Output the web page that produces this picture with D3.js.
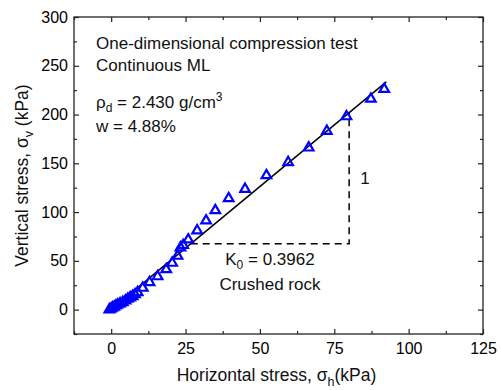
<!DOCTYPE html>
<html lang="en">
<head>
  <meta charset="UTF-8">
  <title>K0 test</title>
  <script src="https://d3js.org/d3.v7.min.js"></script>
  <style>
    body { margin: 0; background: #fff; font-family: "Liberation Sans", Arial, sans-serif; }
    .axis text { font-size: 16px; font-family: "Liberation Sans", Arial, sans-serif; fill: #000; }
    .axis line { stroke: #222; stroke-width: 1.2; }
    .axis path { display: none; }
    .note { font-size: 17px; fill: #111; }
  </style>
</head>
<body>
  <svg width="501" height="390"></svg>
  <script>
    // horizontal / vertical stress readings (kPa)
    const sigmaH = [-0.6, 0.0, 0.5, 1.0, 1.6, 2.2, 3.0, 3.9, 4.8, 5.6, 6.4, 7.2, 8.0, 8.9, 10.6, 12.9, 15.6, 18.5, 20.5, 22.3, 23.3, 24.2, 25.9, 28.9, 31.9, 35.0, 39.5, 45.0, 52.2, 59.5, 66.4, 72.5, 79.1, 87.3, 91.8];
    const sigmaV = [0.0, 1.0, 2.0, 2.8, 4.0, 5.1, 6.2, 7.5, 9.2, 11.0, 12.3, 13.6, 15.5, 17.7, 22.2, 28.0, 34.0, 41.2, 47.8, 55.0, 63.5, 66.0, 71.7, 81.0, 91.2, 101.7, 114.0, 123.6, 137.6, 151.0, 166.0, 183.0, 198.0, 216.0, 226.0];
    const K0 = 0.3962;
    const fitRange = [0, 92.5];
    const slopeCorner = [80, 67.5];
    const xTicks = [0, 25, 50, 75, 100, 125];
    const yTicks = [0, 50, 100, 150, 200, 250, 300];

    const data = sigmaH.map((h, i) => ({h: h, v: sigmaV[i]}));

    const svg = d3.select("svg"),
          margin = {top: 17, right: 18, bottom: 56, left: 74},
          width = +svg.attr("width") - margin.left - margin.right,
          height = +svg.attr("height") - margin.top - margin.bottom;

    const g = svg.append("g").attr("transform", `translate(${margin.left},${margin.top})`);

    const x = d3.scaleLinear().domain([-12.5, 125]).range([0, width]);
    const y = d3.scaleLinear().domain([-25, 300]).range([height, 0]);

    const xMinor = d3.range(-12.5, 126, 25);
    const yMinor = d3.range(-25, 301, 50);

    // bottom
    g.append("g").attr("class", "axis")
      .attr("transform", `translate(0,${height})`)
      .call(d3.axisBottom(x).tickValues(xTicks).tickSize(-5).tickPadding(9));
    g.append("g").attr("class", "axis")
      .attr("transform", `translate(0,${height})`)
      .call(d3.axisBottom(x).tickValues(xMinor).tickSize(-3).tickFormat(""));
    // top
    g.append("g").attr("class", "axis")
      .call(d3.axisTop(x).tickValues(xTicks).tickSize(-5).tickFormat(""));
    g.append("g").attr("class", "axis")
      .call(d3.axisTop(x).tickValues(xMinor).tickSize(-3).tickFormat(""));
    // left
    g.append("g").attr("class", "axis")
      .call(d3.axisLeft(y).tickValues(yTicks).tickSize(-5).tickPadding(6));
    g.append("g").attr("class", "axis")
      .call(d3.axisLeft(y).tickValues(yMinor).tickSize(-3).tickFormat(""));
    // right
    g.append("g").attr("class", "axis")
      .attr("transform", `translate(${width},0)`)
      .call(d3.axisRight(y).tickValues(yTicks).tickSize(-5).tickFormat(""));
    g.append("g").attr("class", "axis")
      .attr("transform", `translate(${width},0)`)
      .call(d3.axisRight(y).tickValues(yMinor).tickSize(-3).tickFormat(""));

    g.append("rect")
      .attr("width", width).attr("height", height)
      .attr("fill", "none").attr("stroke", "#222").attr("stroke-width", 1.3);

    // fitted K0 line
    g.append("line")
      .attr("x1", x(fitRange[0])).attr("y1", y(fitRange[0] / K0))
      .attr("x2", x(fitRange[1])).attr("y2", y(fitRange[1] / K0))
      .attr("stroke", "#000").attr("stroke-width", 1.5);

    // slope triangle
    const c = slopeCorner;
    g.append("path")
      .attr("d", d3.line()([[x(c[1] * K0), y(c[1])], [x(c[0]), y(c[1])], [x(c[0]), y(c[0] / K0)]]))
      .attr("fill", "none").attr("stroke", "#000").attr("stroke-width", 1.5)
      .attr("stroke-dasharray", "7,5");

    // data
    const tri = d3.symbol().type(d3.symbolTriangle).size(40);
    g.selectAll(".pt").data(data).enter().append("path")
      .attr("class", "pt")
      .attr("transform", d => `translate(${x(d.h)},${y(d.v)})`)
      .attr("d", tri)
      .attr("fill", "none").attr("stroke", "#0000ff").attr("stroke-width", 2.2);

    // notes
    const note = (tx, ty, anchor) => g.append("text").attr("class", "note")
      .attr("x", tx).attr("y", ty).attr("text-anchor", anchor || "start");

    note(22, 32).text("One-dimensional compression test");
    note(22, 54).text("Continuous ML");
    const rho = note(22, 91);
    rho.append("tspan").text("ρ");
    rho.append("tspan").attr("dy", 4).style("font-size", "12px").text("d");
    rho.append("tspan").attr("dy", -4).text(" = 2.430 g/cm");
    rho.append("tspan").attr("dy", -7).style("font-size", "12px").text("3");
    note(22, 115).text("w = 4.88%");

    note(x(c[0]) + 11, y((c[1] + c[0] / K0) / 2) + 6).text("1");
    const k = note(x((c[1] * K0 + c[0]) / 2), y(c[1]) + 21, "middle");
    k.append("tspan").text("K");
    k.append("tspan").attr("dy", 4).style("font-size", "12px").text("0");
    k.append("tspan").attr("dy", -4).text(" = 0.3962");
    note(x((c[1] * K0 + c[0]) / 2), y(c[1]) + 46, "middle").text("Crushed rock");

    // axis titles
    const xl = svg.append("text").attr("class", "note").style("font-size", "17.5px")
      .attr("x", margin.left + width / 2 - 2).attr("y", 381).attr("text-anchor", "middle");
    xl.append("tspan").text("Horizontal stress, σ");
    xl.append("tspan").attr("dy", 5).style("font-size", "12.5px").text("h");
    xl.append("tspan").attr("dy", -5).text("(kPa)");

    const yl = svg.append("text").attr("class", "note").style("font-size", "17.5px")
      .attr("transform", `translate(28,${margin.top + height / 2}) rotate(-90)`)
      .attr("text-anchor", "middle");
    yl.append("tspan").text("Vertical stress, σ");
    yl.append("tspan").attr("dy", 5).style("font-size", "12.5px").text("v");
    yl.append("tspan").attr("dy", -5).text(" (kPa)");
  </script>
</body>
</html>
